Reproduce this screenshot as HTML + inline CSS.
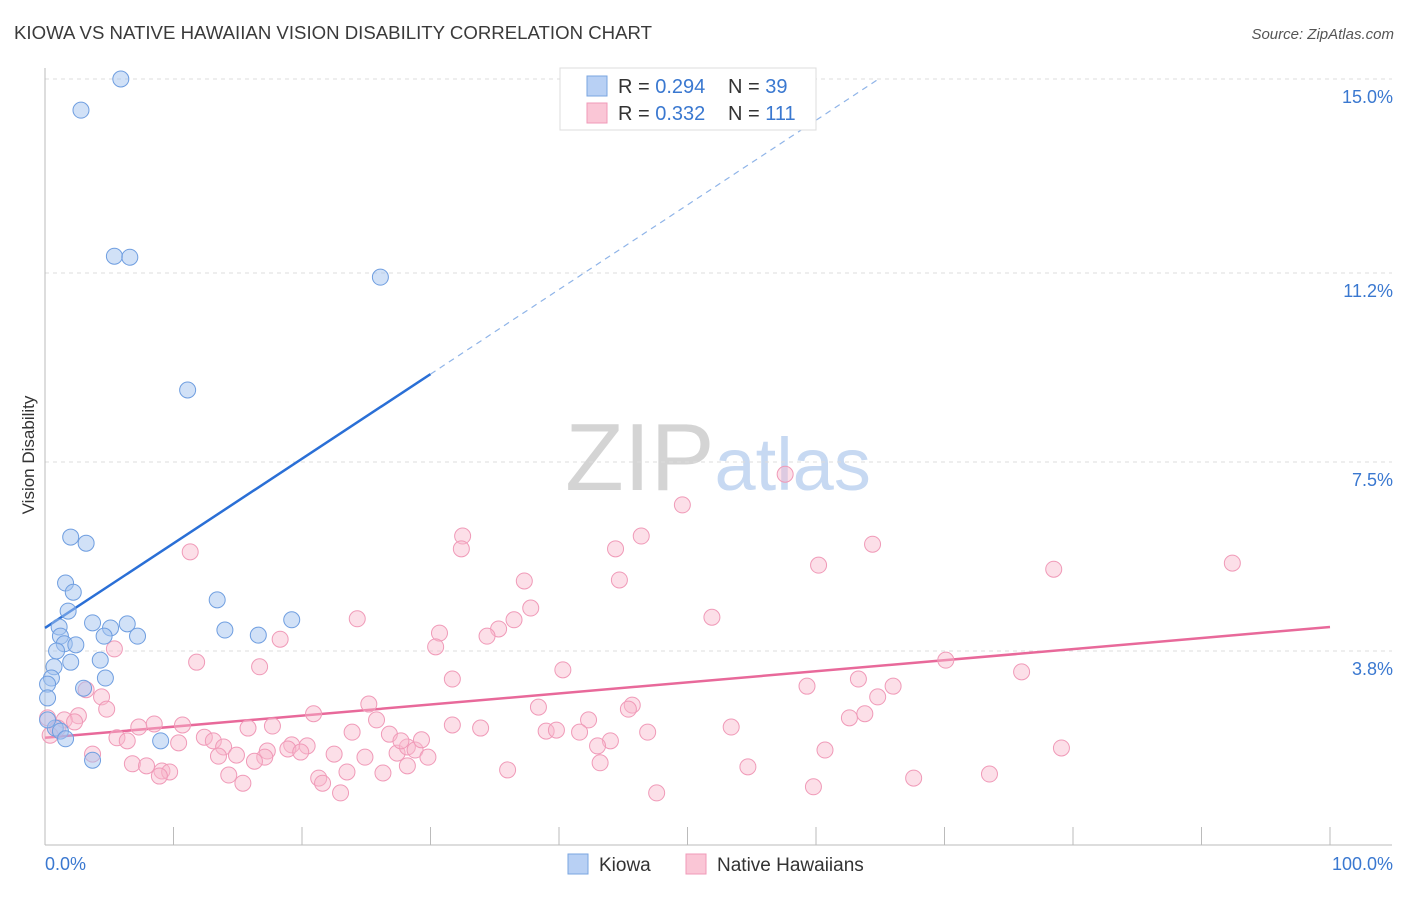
<!DOCTYPE html>
<html><head><meta charset="utf-8"><style>
body{margin:0;background:#fff;font-family:"Liberation Sans",sans-serif;}
svg text{font-family:"Liberation Sans",sans-serif;}
</style></head><body>
<svg id="chart" width="1406" height="892" viewBox="0 0 1406 892" xmlns="http://www.w3.org/2000/svg">
<text x="14" y="39" font-size="18" textLength="638" lengthAdjust="spacingAndGlyphs" fill="#3a3a3a">KIOWA VS NATIVE HAWAIIAN VISION DISABILITY CORRELATION CHART</text>
<text x="1394" y="39" font-size="15" fill="#555" text-anchor="end" font-style="italic">Source: ZipAtlas.com</text>
<text x="718" y="490" font-size="96" text-anchor="middle" fill="#d8d8d8" font-family="Liberation Serif"><tspan fill="#d4d4d4">ZIP</tspan><tspan fill="#c7d9f2" font-family="Liberation Sans" font-size="74">atlas</tspan></text>
<g id="grid"></g>
<g id="axes"></g>
<g id="lines"></g>
<g id="pts"></g>
<text transform="translate(34,455) rotate(-90)" font-size="17" fill="#333" text-anchor="middle">Vision Disability</text>
<g>
<rect x="560" y="68" width="256" height="62" fill="#fff" stroke="#ddd"/>
<rect x="587" y="76" width="20" height="20" fill="#b8d0f4" stroke="#7aa6e0"/>
<rect x="587" y="103" width="20" height="20" fill="#fac6d6" stroke="#f09ab8"/>
<text x="618" y="93" font-size="20" fill="#333">R = <tspan fill="#3a78d0">0.294</tspan></text>
<text x="728" y="93" font-size="20" fill="#333">N = <tspan fill="#3a78d0">39</tspan></text>
<text x="618" y="120" font-size="20" fill="#333">R = <tspan fill="#3a78d0">0.332</tspan></text>
<text x="728" y="120" font-size="20" fill="#333">N = <tspan fill="#3a78d0">111</tspan></text>
</g>
<g>
<rect x="568" y="854" width="20" height="20" fill="#b8d0f4" stroke="#7aa6e0"/>
<text x="599" y="871" font-size="19" fill="#333">Kiowa</text>
<rect x="686" y="854" width="20" height="20" fill="#fac6d6" stroke="#f09ab8"/>
<text x="717" y="871" font-size="19" fill="#333">Native Hawaiians</text>
</g>
</svg>
<script>
const yTicks=[3.8,7.5,11.2,15.0];
const yTickLabels=["3.8%","7.5%","11.2%","15.0%"];
const xTicks=[0,10,20,30,40,50,60,70,80,90,100];
const xTickLabels=["0.0%","100.0%"];
const kiowaX=[5.9,2.8,5.4,6.6,26.1,11.1,2.0,3.2,1.6,2.2,1.8,3.7,5.1,6.4,7.2,1.1,1.2,4.6,1.5,2.4,0.9,4.3,2.0,0.7,0.5,0.2,4.7,3.0,0.2,13.4,14.0,16.6,19.2,0.8,1.2,1.6,3.7,9.0,0.2];
const kiowaY=[15.0,14.39,11.53,11.51,11.12,8.91,6.03,5.91,5.13,4.95,4.58,4.35,4.25,4.33,4.09,4.27,4.09,4.09,3.94,3.92,3.80,3.62,3.58,3.49,3.27,3.15,3.27,3.07,2.88,4.80,4.21,4.11,4.41,2.29,2.23,2.08,1.66,2.04,2.45];
const hawX=[57.6,49.6,32.5,46.4,32.4,44.4,64.4,11.3,60.2,78.5,92.4,37.3,44.7,37.8,51.9,24.3,36.5,35.3,30.7,34.4,18.3,30.4,5.4,11.8,16.7,40.3,70.1,76.0,31.7,59.3,63.3,66.0,64.8,3.2,4.4,25.2,4.8,38.4,45.7,45.4,20.9,2.6,63.8,62.6,25.8,42.3,0.2,1.5,1.0,2.3,8.5,10.7,7.3,17.7,15.8,31.7,33.9,23.9,26.8,39.0,39.8,41.6,46.9,53.4,5.6,6.4,12.4,13.1,10.4,13.9,14.9,17.3,19.2,20.4,18.9,19.9,22.5,24.9,27.4,28.2,28.8,29.3,29.8,27.7,44.0,43.0,3.7,17.1,13.5,16.3,6.8,7.9,9.1,9.7,8.9,14.3,15.4,21.3,21.6,23.5,26.3,28.2,36.0,43.2,54.7,60.7,79.1,23.0,47.6,59.8,67.6,73.5,0.4];
const hawY=[7.26,6.66,6.05,6.05,5.80,5.80,5.89,5.74,5.48,5.40,5.52,5.17,5.19,4.64,4.46,4.43,4.41,4.23,4.15,4.09,4.03,3.88,3.84,3.58,3.49,3.43,3.62,3.39,3.25,3.11,3.25,3.11,2.90,3.04,2.90,2.76,2.66,2.70,2.74,2.66,2.57,2.53,2.57,2.49,2.45,2.45,2.49,2.45,2.29,2.41,2.37,2.35,2.31,2.33,2.29,2.35,2.29,2.21,2.17,2.23,2.25,2.21,2.21,2.31,2.10,2.04,2.11,2.04,2.00,1.92,1.76,1.84,1.96,1.94,1.88,1.82,1.78,1.72,1.80,1.92,1.86,2.06,1.72,2.04,2.04,1.94,1.78,1.72,1.74,1.64,1.59,1.55,1.45,1.43,1.35,1.37,1.21,1.31,1.21,1.43,1.41,1.55,1.47,1.61,1.53,1.86,1.90,1.02,1.02,1.14,1.31,1.39,2.15];
const kiowaFit=[4.25,0.1657];
const hawFit=[2.10,0.0217];
const NS="http://www.w3.org/2000/svg";
const X0=45,X1=1330,YB=845,YT=79;
function sx(v){return X0+(X1-X0)*v/100;}
function sy(v){return YB-(YB-YT)*v/15;}
function mk(tag,attrs,parent){const e=document.createElementNS(NS,tag);for(const k in attrs)e.setAttribute(k,attrs[k]);parent.appendChild(e);return e;}
const grid=document.getElementById('grid'),axes=document.getElementById('axes'),lines=document.getElementById('lines'),pts=document.getElementById('pts');
yTicks.forEach((t,i)=>{
 const l=mk('line',{x1:45,x2:1392,y1:sy(t),y2:sy(t),stroke:'#dcdcdc','stroke-dasharray':'4,4'},grid);
 
 
 const tx=mk('text',{x:1393,y:sy(t)+24,'font-size':18,fill:'#3a78d0','text-anchor':'end'},axes);
 tx.textContent=yTickLabels[i];
 
 
});
const ax=mk('line',{x1:45,x2:1392,y1:YB,y2:YB,stroke:'#bbb'},axes);


const ay=mk('line',{x1:45,x2:45,y1:68,y2:YB,stroke:'#bbb'},axes);


xTicks.forEach(t=>{
 const l=mk('line',{x1:sx(t),x2:sx(t),y1:YB-18,y2:YB,stroke:'#bbb'},axes);
 
 
});
const xl0=mk('text',{x:45,y:870,'font-size':18,fill:'#3a78d0'},axes);xl0.textContent=xTickLabels[0];


const xl1=mk('text',{x:1393,y:870,'font-size':18,fill:'#3a78d0','text-anchor':'end'},axes);xl1.textContent=xTickLabels[1];


function dot(x,y,fill,stroke,name){const c=mk('circle',{cx:sx(x),cy:sy(y),r:8,fill:fill,stroke:stroke,'stroke-width':1},pts);
 
 }
hawX.forEach((x,i)=>dot(x,hawY[i],'rgba(248,184,204,0.45)','#f09ab8','hawaiian-point'));
kiowaX.forEach((x,i)=>dot(x,kiowaY[i],'rgba(164,196,240,0.5)','#6f9ee0','kiowa-point'));
const kxEnd=30, kxDash=(15-kiowaFit[0])/kiowaFit[1];
const k1=mk('line',{x1:sx(0),y1:sy(kiowaFit[0]),x2:sx(kxEnd),y2:sy(kiowaFit[0]+kiowaFit[1]*kxEnd),stroke:'#2a6fd6','stroke-width':2.5},lines);


const k2=mk('line',{x1:sx(kxEnd),y1:sy(kiowaFit[0]+kiowaFit[1]*kxEnd),x2:sx(kxDash),y2:sy(15),stroke:'#8fb4e8','stroke-width':1.2,'stroke-dasharray':'6,5'},lines);


const h1=mk('line',{x1:sx(0),y1:sy(hawFit[0]),x2:sx(100),y2:sy(hawFit[0]+hawFit[1]*100),stroke:'#e8699a','stroke-width':2.5},lines);


</script>
</body></html>
